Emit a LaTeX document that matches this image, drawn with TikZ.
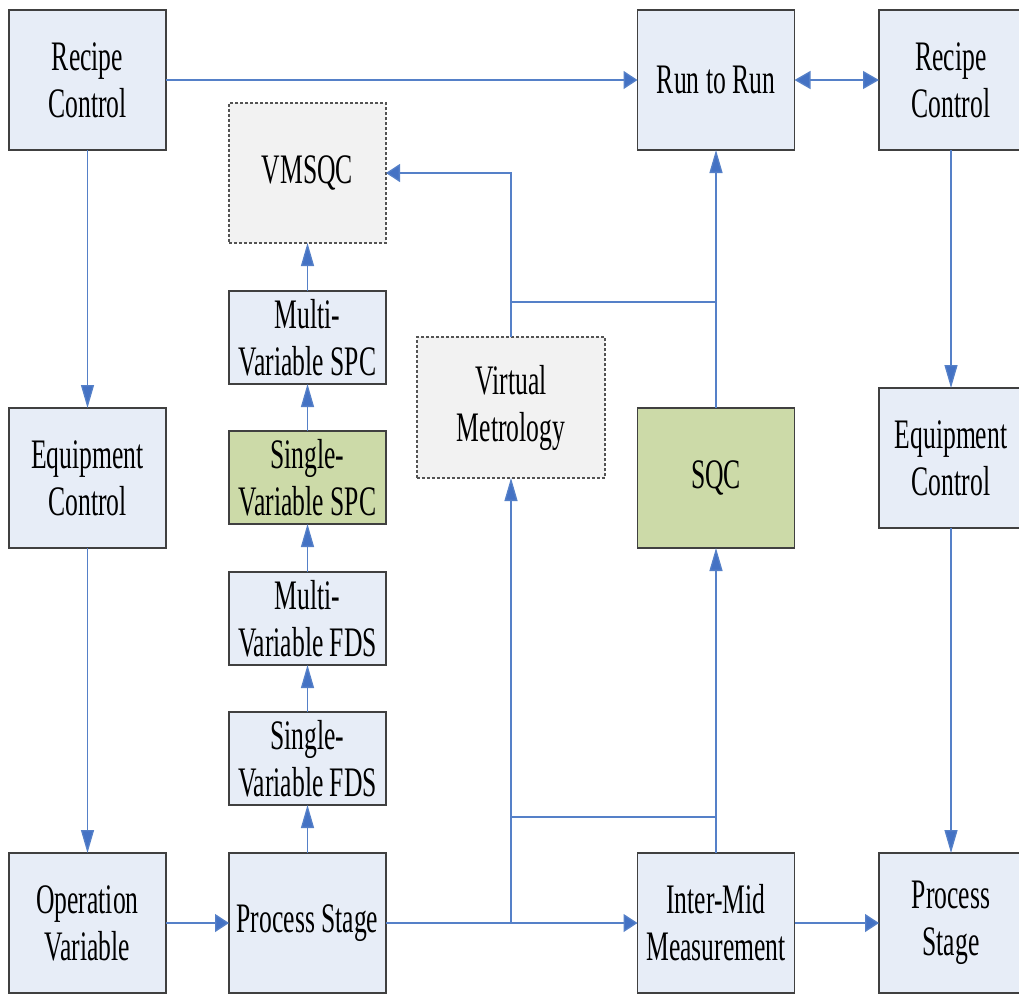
\documentclass[tikz,border=0pt]{standalone}
\usepackage{fontspec}
\setmainfont{Liberation Serif}[FakeStretch=0.61]
\usetikzlibrary{arrows.meta}
\definecolor{boxfill}{HTML}{E7EDF7}
\definecolor{grayfill}{HTML}{F2F2F2}
\definecolor{greenfill}{HTML}{CCDAA8}
\definecolor{edge}{HTML}{404040}
\definecolor{link}{HTML}{5580C8}
\definecolor{tip}{HTML}{4472C4}
\tikzset{
  box/.style={draw=edge, line width=1.3pt, fill=boxfill, inner sep=0pt, outer sep=0pt,
    align=center, font=\fontsize{42}{47}\selectfont, minimum width=157, minimum height=140},
  small/.style={minimum height=93},
  green/.style={fill=greenfill},
  dbox/.style={fill=grayfill, dashed, dash pattern=on 3pt off 2pt, draw=edge!90, line width=1.1pt},
  conn/.style={draw=link, line width=1.3pt},
  va/.style={conn, -{Triangle[length=23pt,width=13pt,fill=tip]}},
  ha/.style={conn, -{Triangle[length=14pt,width=18pt,fill=tip]}},
  hb/.style={conn, {Triangle[length=16pt,width=18pt,fill=tip]}-{Triangle[length=16pt,width=18pt,fill=tip]}},
}
\begin{document}
\begin{tikzpicture}[x=1pt,y=-1pt]
\useasboundingbox (0,0) rectangle (1019,994);
% left column
\node[box] (rcL) at (87.5,80) {Recipe\\Control};
\node[box] (eqL) at (87.5,478) {Equipment\\Control};
\node[box] (opv) at (87.5,923) {Operation\\Variable};
% second column
\node[box,dbox] (vmsqc) at (307.5,173) {VMSQC};
\node[box,small] (mspc) at (307.5,337.5) {Multi-\\Variable SPC};
\node[box,small,green] (sspc) at (307.5,477.5) {Single-\\Variable SPC};
\node[box,small] (mfds) at (307.5,618.5) {Multi-\\Variable FDS};
\node[box,small] (sfds) at (307.5,758.5) {Single-\\Variable FDS};
\node[box] (psM) at (307.5,923) {Process Stage};
% virtual metrology
\node[box,dbox,minimum width=188,minimum height=141] (vm) at (511,407.5) {Virtual\\Metrology};
% fourth column
\node[box] (r2r) at (716,80) {Run to Run};
\node[box,green] (sqc) at (716,478) {SQC};
\node[box] (imm) at (716,923) {Inter-Mid\\Measurement};
% right column (cut by page edge)
\node[box,minimum width=144] (rcR) at (951,80) {Recipe\\Control};
\node[box,minimum width=144] (eqR) at (951,458) {Equipment\\Control};
\node[box,minimum width=144] (psR) at (951,923) {Process\\Stage};
% junctions
\coordinate (j1) at (511,923);
\coordinate (j2) at (511,817);
\coordinate (j3) at (511,302);
\coordinate (j4) at (716,302);
% connectors
\draw[ha] (rcL.east) -- (r2r.west);
\draw[hb] (r2r.east) -- (rcR.west);
\draw[va] (rcL.south) -- (eqL.north);
\draw[va] (eqL.south) -- (opv.north);
\draw[ha] (opv.east) -- (psM.west);
\draw[va] (psM.north) -- (sfds.south);
\draw[va] (sfds.north) -- (mfds.south);
\draw[va] (mfds.north) -- (sspc.south);
\draw[va] (sspc.north) -- (mspc.south);
\draw[va] (mspc.north) -- (vmsqc.south);
\draw[ha] (psM.east) -- (imm.west);
\draw[va] (j1) -- (vm.south);
\draw[conn] (imm.north) |- (j2);
\draw[va] (imm.north) -- (sqc.south);
\draw[va] (sqc.north) -- (r2r.south);
\draw[ha] (vm.north) |- (vmsqc.east);
\draw[conn] (j3) -- (j4);
\draw[va] (rcR.south) -- (eqR.north);
\draw[va] (eqR.south) -- (psR.north);
\draw[ha] (imm.east) -- (psR.west);
\end{tikzpicture}
\end{document}
